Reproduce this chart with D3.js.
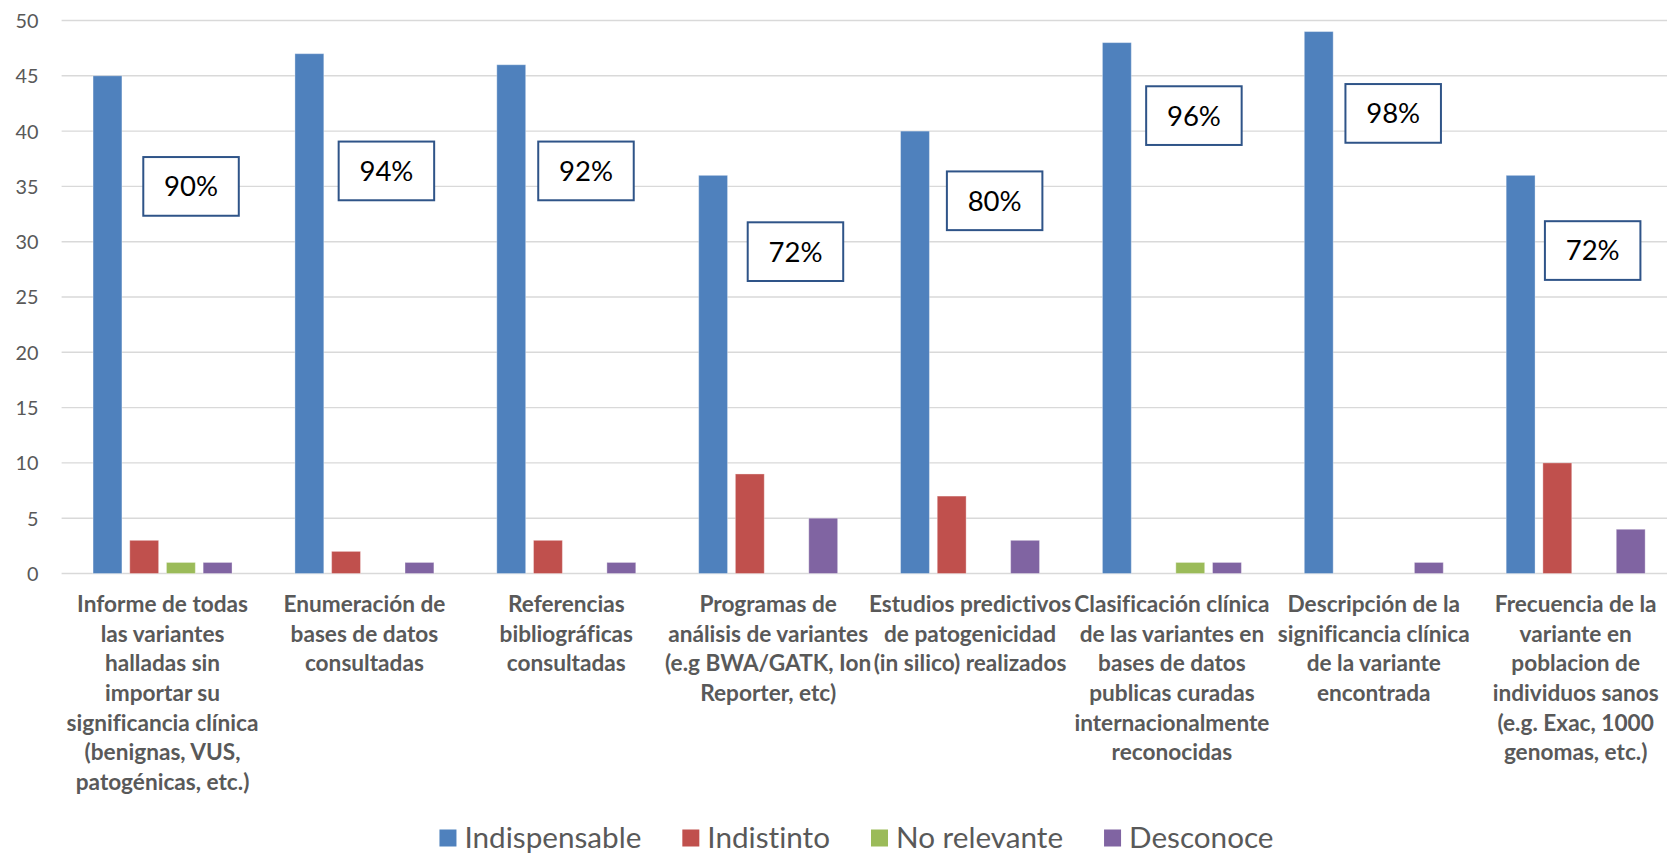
<!DOCTYPE html>
<html><head><meta charset="utf-8">
<script src="https://cdn.jsdelivr.net/npm/d3@7"></script>
<style>
html,body{margin:0;padding:0;background:#fff;overflow:hidden}
text{font-variant-ligatures:none;font-feature-settings:"liga" 0,"clig" 0,"dlig" 0}
</style>
</head><body>
<svg id="chart" width="1667" height="854"></svg>
<script>
// ---------- data ----------
const categories = [
  "Informe de todas\nlas variantes\nhalladas sin\nimportar su\nsignificancia clínica\n(benignas, VUS,\npatogénicas, etc.)",
  "Enumeración de\nbases de datos\nconsultadas",
  "Referencias\nbibliográficas\nconsultadas",
  "Programas de\nanálisis de variantes\n(e.g BWA/GATK, Ion\nReporter, etc)",
  "Estudios predictivos\nde patogenicidad\n(in silico) realizados",
  "Clasificación clínica\nde las variantes en\nbases de datos\npublicas curadas\ninternacionalmente\nreconocidas",
  "Descripción de la\nsignificancia clínica\nde la variante\nencontrada",
  "Frecuencia de la\nvariante en\npoblacion de\nindividuos sanos\n(e.g. Exac, 1000\ngenomas, etc.)"
];
const seriesNames = ["Indispensable", "Indistinto", "No relevante", "Desconoce"];
const indispensable = [45, 47, 46, 36, 40, 48, 49, 36];
const indistinto    = [3, 2, 3, 9, 7, 0, 0, 10];
const noRelevante   = [1, 0, 0, 0, 0, 1, 0, 0];
const desconoce     = [1, 1, 1, 5, 3, 1, 1, 4];
const yTickValues   = [0, 5, 10, 15, 20, 25, 30, 35, 40, 45, 50];

// ---------- styles / layout ----------
const colors = ["#4F81BD", "#C0504D", "#9BBB59", "#8064A2"];
// annotation boxes (hand-placed text boxes): centre in data units + x offset from group centre (px)
const boxCenterValue = [35, 36.4, 36.4, 29.1, 33.7, 41.4, 41.6, 29.2];
const boxOffsetX     = [28.5, 22, 19.7, 27.3, 24.6, 22, 19.4, 17];
const boxW = 95.5, boxH = 58.7;

const FONT = "Lato, Carlito, Calibri, 'Open Sans', sans-serif";
const svg = d3.select("#chart");

function fitFont(text, weight, target) {
  const t = svg.append("text").attr("font-family", FONT).attr("font-weight", weight)
    .attr("font-size", 100).text(text);
  const w = t.node().getComputedTextLength();
  t.remove();
  return 100 * target / w;
}

const seriesValues = [indispensable, indistinto, noRelevante, desconoce];
const rows = categories.map((c, i) => ({
  cat: c, vals: seriesValues.map((arr, s) => ({ s, v: arr[i] }))
}));
const totals = categories.map((c, i) => d3.sum(seriesValues, arr => arr[i]));

const plotLeft = 61.6, plotRight = 1676.6, plotTop = 20.5, plotBottom = 573.5;

const x0 = d3.scaleBand().domain(categories).range([plotLeft, plotRight]).paddingInner(0).paddingOuter(0);
const x1 = d3.scaleBand().domain(d3.range(seriesNames.length)).range([0, x0.bandwidth()])
  .paddingInner(0.213).paddingOuter(0.857);
const y = d3.scaleLinear().domain([0, 50]).range([plotBottom, plotTop]);

// gridlines
svg.append("g").selectAll("line").data(yTickValues).join("line")
  .attr("x1", plotLeft).attr("x2", plotRight)
  .attr("y1", d => y(d)).attr("y2", d => y(d))
  .attr("stroke", "#D9D9D9").attr("stroke-width", 1.4);

// y axis labels
const tickSize = fitFont("50", 400, 23);
const yAxis = d3.axisLeft(y).tickValues(yTickValues).tickSize(0).tickPadding(0);
const ya = svg.append("g").attr("transform", "translate(38.5,0)").call(yAxis);
ya.select(".domain").remove();
ya.selectAll("text").attr("font-family", FONT).attr("font-size", tickSize)
  .attr("fill", "#595959").attr("dy", "0.35em");

// bars
const groups = svg.append("g").selectAll("g").data(rows).join("g")
  .attr("transform", d => `translate(${x0(d.cat)},0)`);
groups.selectAll("rect").data(d => d.vals.filter(e => e.v > 0)).join("rect")
  .attr("x", d => x1(d.s)).attr("width", x1.bandwidth())
  .attr("y", d => y(d.v)).attr("height", d => y(0) - y(d.v))
  .attr("fill", d => colors[d.s])
  .attr("stroke", "rgba(255,255,255,0.35)").attr("stroke-width", 1);

// category labels
const catSize = fitFont("análisis de variantes", 700, 200);
const lineH = 29.7;
const catG = svg.append("g");
rows.forEach(r => {
  const cx = x0(r.cat) + x0.bandwidth() / 2;
  const t = catG.append("text").attr("text-anchor", "middle")
    .attr("font-family", FONT).attr("font-weight", 700).attr("font-size", catSize)
    .attr("fill", "#595959");
  r.cat.split("\n").forEach((ln, i) => {
    t.append("tspan").attr("x", cx).attr("y", 604 + i * lineH).attr("dy", "0.35em").text(ln);
  });
});

// annotation boxes
const pct = d3.format(".0%");
const boxSize = fitFont("90%", 400, 54);
const boxes = svg.append("g").selectAll("g").data(categories).join("g")
  .attr("transform", (c, i) => `translate(${x0(c) + x0.bandwidth() / 2 + boxOffsetX[i]},${y(boxCenterValue[i])})`);
boxes.append("rect").attr("x", -boxW / 2).attr("y", -boxH / 2).attr("width", boxW).attr("height", boxH)
  .attr("fill", "#fff").attr("stroke", "#2F5488").attr("stroke-width", 2);
boxes.append("text").attr("text-anchor", "middle").attr("dy", "0.36em")
  .attr("font-family", FONT).attr("font-size", boxSize).attr("fill", "#000")
  .text((c, i) => pct(indispensable[i] / totals[i]));

// legend
const legSize = fitFont("Indispensable", 400, 177);
const leg = svg.append("g");
let lx = 0;
seriesNames.forEach((n, i) => {
  const g = leg.append("g").attr("transform", `translate(${lx},0)`);
  g.append("rect").attr("x", 0).attr("y", -8.5).attr("width", 17).attr("height", 17).attr("fill", colors[i]);
  const t = g.append("text").attr("x", 25).attr("dy", "0.35em")
    .attr("font-family", FONT).attr("font-size", legSize).attr("fill", "#595959").text(n);
  lx += 25 + t.node().getComputedTextLength() + 41;
});
const legW = lx - 41;
leg.attr("transform", `translate(${856.5 - legW / 2},838)`);
</script>
</body></html>
